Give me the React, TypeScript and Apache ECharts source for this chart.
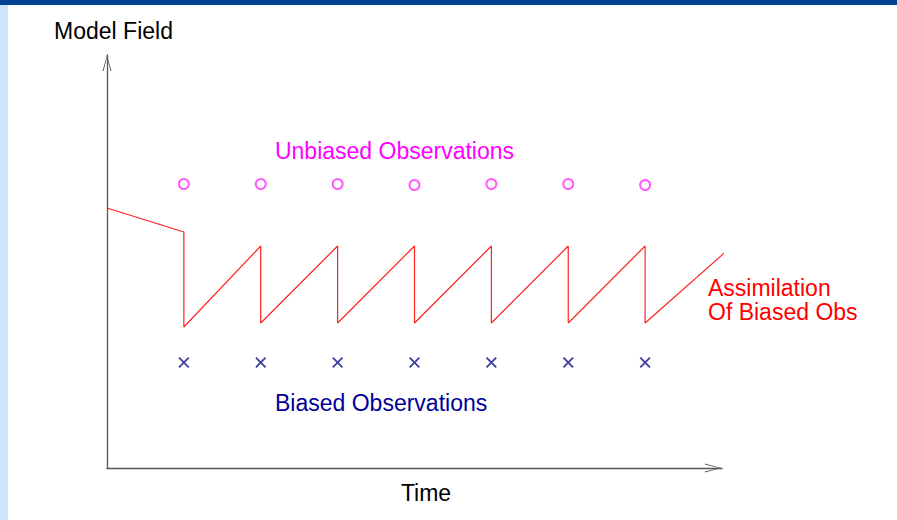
import React, { useEffect, useRef } from "react";
import * as echarts from "echarts";

// Observation times (time units; y-axis at t = 0)
const obsTimes = [1, 2, 3, 4, 5, 6, 7];
// Unbiased observations (model-field units)
const unbiasedObs = [28.4, 28.4, 28.4, 28.3, 28.4, 28.4, 28.3];
// Biased observations
const biasedObs = [10.55, 10.55, 10.55, 10.55, 10.55, 10.55, 10.55];
// Model trajectory while assimilating biased observations
const modelTimes = [0, 1, 1, 2, 2, 3, 3, 4, 4, 5, 5, 6, 6, 7, 7, 8.06];
const modelValues = [26.0, 23.6, 14.1, 22.2, 14.5, 22.2, 14.5, 22.2, 14.5, 22.2, 14.5, 22.2, 14.5, 22.2, 14.5, 21.7];

const yAxisTitle = "Model Field";
const xAxisTitle = "Time";
const unbiasedLabel = "Unbiased Observations";
const biasedLabel = "Biased Observations";
const modelLabel = ["Assimilation", "Of Biased Obs"];

const FONT = "'Liberation Sans', Arial, Helvetica, sans-serif";
const ARROW = "path://M5,0 L10,18 L8.9,18 L5,2.6 L1.1,18 L0,18 Z";
const CROSS = "path://M0,1.2 L1.2,0 L10,8.8 L8.8,10 Z M8.8,0 L10,1.2 L1.2,10 L0,8.8 Z";

export default function App() {
  const ref = useRef<HTMLDivElement>(null);
  useEffect(() => {
    if (!ref.current) return;
    const chart = echarts.init(ref.current, undefined, { renderer: "svg" });
    const axisLine = (size: number[], off: number) => ({
      show: true,
      symbol: ["none", ARROW],
      symbolSize: size,
      symbolOffset: [0, off],
      lineStyle: { color: "#555555", width: 1.3 },
    });
    const font = `23px ${FONT}`;
    chart.setOption({
      animation: false,
      backgroundColor: "#ffffff",
      textStyle: { fontFamily: FONT },
      grid: { left: 107, right: 175, top: 55, bottom: 52 },
      xAxis: {
        type: "value",
        min: 0,
        max: 8,
        axisLine: axisLine([9, 18], -9),
        axisTick: { show: false },
        axisLabel: { show: false },
        splitLine: { show: false },
      },
      yAxis: {
        type: "value",
        min: 0,
        max: 41.3,
        axisLine: axisLine([9, 16], -8),
        axisTick: { show: false },
        axisLabel: { show: false },
        splitLine: { show: false },
      },
      graphic: [
        { type: "rect", shape: { x: 0, y: 0, width: 897, height: 5 }, style: { fill: "#004390" }, silent: true },
        { type: "rect", shape: { x: 0, y: 5, width: 8, height: 515 }, style: { fill: "#cfe5fd" }, silent: true },
        { type: "text", x: 113.5, y: 31, style: { text: yAxisTitle, fill: "#000", font, textAlign: "center", textVerticalAlign: "middle" } },
        { type: "text", x: 426, y: 493, style: { text: xAxisTitle, fill: "#000", font, textAlign: "center", textVerticalAlign: "middle" } },
        { type: "text", x: 394.5, y: 151, style: { text: unbiasedLabel, fill: "#ff00ff", font, textAlign: "center", textVerticalAlign: "middle" } },
        { type: "text", x: 275, y: 403, style: { text: biasedLabel, fill: "#000099", font, textAlign: "left", textVerticalAlign: "middle" } },
        { type: "text", x: 708, y: 287.5, style: { text: modelLabel[0], fill: "#ff0000", font, textAlign: "left", textVerticalAlign: "middle" } },
        { type: "text", x: 708, y: 312, style: { text: modelLabel[1], fill: "#ff0000", font, textAlign: "left", textVerticalAlign: "middle" } },
      ],
      series: [
        {
          type: "line",
          data: modelTimes.map((t, i) => [t, modelValues[i]]),
          showSymbol: false,
          clip: false,
          lineStyle: { color: "#ff2020", width: 1.2 },
        },
        {
          type: "scatter",
          data: obsTimes.map((t, i) => [t, unbiasedObs[i]]),
          symbol: "emptyCircle",
          symbolSize: 10,
          itemStyle: { color: "#ff33ff", borderColor: "#ff33ff", borderWidth: 1.5 },
        },
        {
          type: "scatter",
          data: obsTimes.map((t, i) => [t, biasedObs[i]]),
          symbol: CROSS,
          symbolSize: 11,
          itemStyle: { color: "#10108f" },
        },
      ],
    });
    return () => chart.dispose();
  }, []);
  return (
    <div
      ref={ref}
      style={{ position: "fixed", left: 0, top: 0, width: 897, height: 520, background: "#fff" }}
    />
  );
}
